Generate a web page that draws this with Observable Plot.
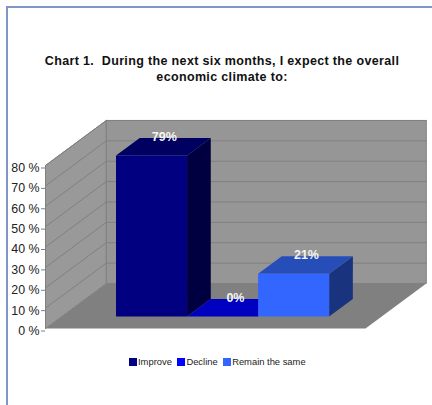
<!DOCTYPE html>
<html>
<head>
<meta charset="utf-8">
<script src="https://cdn.jsdelivr.net/npm/d3@7"></script>
<script src="https://cdn.jsdelivr.net/npm/@observablehq/plot@0.6"></script>
<style>
  html, body { margin: 0; padding: 0; background: #fff; }
  #page { position: relative; width: 432px; height: 405px; overflow: hidden; font-family: "Liberation Sans", Arial, sans-serif; }
  #frame { position: absolute; left: 6px; top: 6px; right: -10px; bottom: -10px; border-left: 2.5px solid #8095c8; border-top: 2.5px solid #8095c8; }
  #title { position: absolute; left: 0; top: 54px; width: 444px; text-align: center; font-weight: bold; font-size: 12.5px; line-height: 15.5px; color: #111; white-space: pre; letter-spacing: 0.35px; }
  #legend { position: absolute; left: 129px; top: 357px; display: flex; font-size: 9.4px; line-height: 10px; color: #222; white-space: nowrap; }
  #legend .entry { display: flex; align-items: center; margin-right: 5.5px; }
  #legend .swatch { width: 8px; height: 8px; margin-right: 1px; }
  svg { position: absolute; left: 0; top: 0; }
</style>
</head>
<body>
<div id="page">
  <div id="frame"></div>
  <div id="title"></div>
  <div id="legend"></div>
</div>
<script>
const titleLines = ["Chart 1.  During the next six months, I expect the overall", "economic climate to:"];
const series = ["Improve", "Decline", "Remain the same"];
const values = [79, 0, 21];
const valueLabels = ["79%", "0%", "21%"];
const yTicks = [0, 10, 20, 30, 40, 50, 60, 70, 80];
const legendColors = ["#000080", "#0000ff", "#3366ff"];
const frontColors = ["#000080", "#0000c0", "#3366ff"];
const topColors = ["#000060", "#0000c0", "#264db8"];
const sideColors = ["#000040", "#000060", "#1a337f"];

// Oblique view: depth 0 is the front of the floor, depth 1 the back wall.
const depthX = 0.19;   // horizontal shift of the back wall, as a share of the category width
const depthY = 22.1;   // vertical shift of the back wall, in axis units
const axisMax = 80;
const barWidth = 0.222;
const barStart = 0.17;
const barFront = 0.265;
const barBack = 0.655;

const at = (x, v, d) => ({x: x + d * depthX, y: v + d * depthY});
const face = (points, fill, stroke = "none") =>
  Plot.line(points, {x: "x", y: "y", fill, stroke, strokeWidth: 1});

const marks = [];

// Left wall, back wall and floor
marks.push(face([at(0, 0, 0), at(0, 0, 1), at(0, axisMax, 1), at(0, axisMax, 0), at(0, 0, 0)], "#999999", "#808080"));
marks.push(face([at(0, 0, 1), at(1, 0, 1), at(1, axisMax, 1), at(0, axisMax, 1), at(0, 0, 1)], "#969696", "#808080"));
marks.push(face([at(0, 0, 0), at(1, 0, 0), at(1, 0, 1), at(0, 0, 1)], "#808080"));

// Gridlines run across the left wall and along the back wall
for (const t of yTicks.slice(1)) {
  marks.push(Plot.line([at(0, t, 0), at(0, t, 1), at(1, t, 1)], {x: "x", y: "y", stroke: "#808080", strokeWidth: 1}));
}

// Bars: side, top and front faces
values.forEach((v, i) => {
  const x0 = barStart + i * barWidth;
  const x1 = x0 + barWidth;
  marks.push(face([at(x1, 0, barFront), at(x1, 0, barBack), at(x1, v, barBack), at(x1, v, barFront)], sideColors[i]));
  marks.push(face([at(x0, v, barFront), at(x1, v, barFront), at(x1, v, barBack), at(x0, v, barBack)], topColors[i]));
  marks.push(face([at(x0, 0, barFront), at(x1, 0, barFront), at(x1, v, barFront), at(x0, v, barFront)], frontColors[i]));
});

// Value labels sit above the middle of each bar's top face
const labelRows = values.map((v, i) => ({
  ...at(barStart + (i + 0.5) * barWidth, v, (barFront + barBack) / 2),
  label: valueLabels[i]
}));
marks.push(Plot.text(labelRows, {
  x: "x", y: "y", text: "label", fill: "#f4f4f4", fontWeight: "bold", fontSize: 12.5, dx: 1, dy: -10
}));

marks.push(Plot.axisY(yTicks, {
  anchor: "left", tickSize: 4, tickPadding: 2, fontSize: 12.4, fill: "#222", stroke: "#808080",
  tickFormat: d => d + " %", label: null, textStroke: "none", dy: 2.5
}));

const chart = Plot.plot({
  width: 432,
  height: 405,
  marginLeft: 45,
  marginRight: 67,
  marginTop: 165,
  marginBottom: 77,
  x: {domain: [0, 1], axis: null},
  y: {domain: [0, axisMax], axis: null},
  style: {background: "transparent", fontFamily: "'Liberation Sans', Arial, sans-serif"},
  marks
});
document.getElementById("page").appendChild(chart);

document.getElementById("title").textContent = titleLines.join("\n");
const legend = document.getElementById("legend");
series.forEach((name, i) => {
  const entry = document.createElement("div");
  entry.className = "entry";
  const swatch = document.createElement("div");
  swatch.className = "swatch";
  swatch.style.background = legendColors[i];
  const text = document.createElement("span");
  text.textContent = name;
  entry.append(swatch, text);
  legend.appendChild(entry);
});
</script>
</body>
</html>
